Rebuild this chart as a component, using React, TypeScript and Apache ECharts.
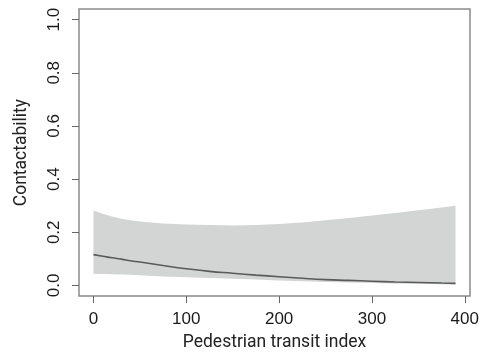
import React, { useEffect, useRef } from "react";
import * as echarts from "echarts";

const xs = [0, 10, 20, 30, 40, 50, 75, 100, 125, 150, 175, 200, 225, 250, 275, 300, 325, 350, 375, 390];
const upper = [0.282, 0.27, 0.259, 0.251, 0.245, 0.241, 0.233, 0.229, 0.227, 0.226, 0.227, 0.231, 0.237, 0.245, 0.254, 0.263, 0.273, 0.283, 0.293, 0.3];
const lower = [0.044, 0.043, 0.042, 0.041, 0.04, 0.038, 0.034, 0.031, 0.028, 0.025, 0.022, 0.019, 0.016, 0.013, 0.011, 0.009, 0.007, 0.006, 0.005, 0.004];
const fit = [0.116, 0.11, 0.104, 0.099, 0.093, 0.088, 0.075, 0.063, 0.053, 0.046, 0.039, 0.033, 0.027, 0.022, 0.019, 0.016, 0.013, 0.011, 0.009, 0.008];
const xTicks = [0, 100, 200, 300, 400];
const yTicks = [0, 0.2, 0.4, 0.6, 0.8, 1.0];

export default function App() {
  const ref = useRef<HTMLDivElement>(null);
  useEffect(() => {
    const chart = echarts.init(ref.current!, null, { renderer: "svg" });
    chart.setOption({
      animation: false,
      grid: {
        left: 79,
        right: 15,
        top: 9,
        bottom: 53,
        show: true,
        borderColor: "#8a8a8a",
        borderWidth: 1.5,
        backgroundColor: "transparent",
      },
      xAxis: {
        type: "value",
        min: -15.6,
        max: 405.6,
        name: "Pedestrian transit index",
        nameLocation: "middle",
        nameGap: 33,
        nameTextStyle: { fontFamily: "Roboto", fontSize: 17.5, color: "#222" },
        axisLine: { show: false, onZero: false },
        splitLine: { show: false },
        axisTick: { show: true, inside: false, length: 7, customValues: xTicks, lineStyle: { color: "#666", width: 1 } },
        axisLabel: {
          customValues: xTicks,
          fontFamily: "Liberation Sans",
          fontSize: 17,
          color: "#1a1a1a",
          margin: 14,
        },
      },
      yAxis: {
        type: "value",
        min: -0.04,
        max: 1.04,
        name: "Contactability",
        nameLocation: "middle",
        nameGap: 50,
        nameTextStyle: { fontFamily: "Roboto", fontSize: 17.5, color: "#222" },
        axisLine: { show: false, onZero: false },
        splitLine: { show: false },
        axisTick: { show: true, inside: false, length: 7, customValues: yTicks, lineStyle: { color: "#666", width: 1 } },
        axisLabel: {
          customValues: yTicks,
          rotate: 90,
          fontFamily: "Liberation Sans",
          fontSize: 17,
          color: "#1a1a1a",
          margin: 17,
          formatter: (v: number) => v.toFixed(1),
        },
      },
      series: [
        {
          type: "custom",
          data: [[xs[0], upper[0]]],
          silent: true,
          z: 1,
          renderItem: (params: any, api: any) => {
            const pts: number[][] = [];
            for (let i = 0; i < xs.length; i++) pts.push(api.coord([xs[i], upper[i]]));
            for (let i = xs.length - 1; i >= 0; i--) pts.push(api.coord([xs[i], lower[i]]));
            return {
              type: "polygon",
              shape: { points: pts },
              style: { fill: "#d3d4d4", stroke: "none" },
            };
          },
        },
        {
          type: "line",
          data: xs.map((x, i) => [x, fit[i]]),
          smooth: true,
          showSymbol: false,
          z: 3,
          lineStyle: { color: "#5a5a5a", width: 1.6 },
        },
      ],
    });
    return () => chart.dispose();
  }, []);
  return <div ref={ref} style={{ position: "fixed", left: 0, top: 0, width: 485, height: 355 }} />;
}
